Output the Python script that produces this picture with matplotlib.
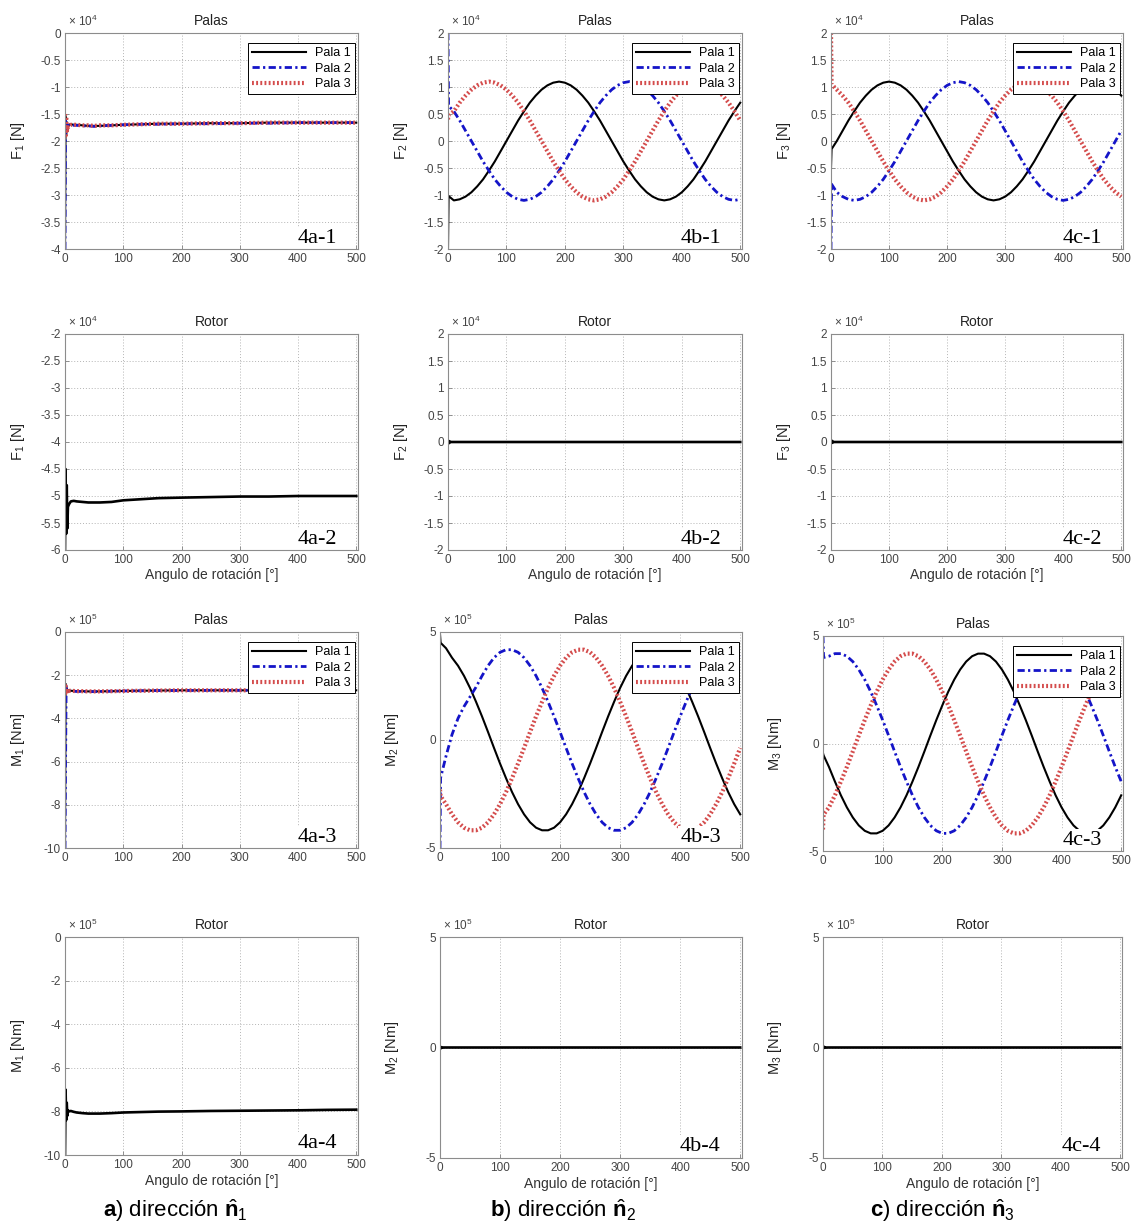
import matplotlib
matplotlib.use("Agg")
import matplotlib.pyplot as plt
from matplotlib.ticker import FuncFormatter

plt.rcParams['font.family'] = ['Liberation Sans', 'DejaVu Sans']
plt.rcParams['mathtext.fontset'] = 'custom'
plt.rcParams['mathtext.rm'] = 'Liberation Sans'
plt.rcParams['mathtext.bf'] = 'Liberation Sans:bold'
plt.rcParams['mathtext.it'] = 'Liberation Sans:italic'

# ---------------- data ----------------
theta = [0, 1] + list(range(10, 510, 10))          # rotation angle [deg]
theta_flat = [0, 1, 2, 3, 4, 5, 7, 10, 15, 20, 30, 40, 50, 60, 80, 100,
              130, 160, 200, 250, 300, 350, 400, 450, 500]
x_ticks = [0, 100, 200, 300, 400, 500]
legend_labels = ['Pala 1', 'Pala 2', 'Pala 3']

# F1 Palas (x1e4)
F1_p1 = [-4.0, -1.55, -1.9, -1.65, -1.8, -1.72, -1.7, -1.69, -1.7, -1.7, -1.71, -1.72, -1.72,
         -1.72, -1.71, -1.7, -1.69, -1.68, -1.68, -1.67, -1.67, -1.66, -1.66, -1.66, -1.66]
F1_p2 = [-4.0, -1.6, -1.85, -1.7, -1.75, -1.72, -1.7, -1.7, -1.71, -1.71, -1.72, -1.72, -1.73,
         -1.72, -1.71, -1.7, -1.69, -1.69, -1.68, -1.68, -1.67, -1.67, -1.66, -1.66, -1.66]
F1_p3 = [-1.5, -1.9, -1.55, -1.85, -1.7, -1.75, -1.72, -1.7, -1.7, -1.7, -1.71, -1.71, -1.72,
         -1.71, -1.71, -1.7, -1.69, -1.68, -1.68, -1.67, -1.67, -1.66, -1.66, -1.66, -1.66]
# F1 Rotor (x1e4)
F1_rotor = [-6.0, -4.5, -5.7, -4.8, -5.6, -5.2, -5.15, -5.1, -5.09, -5.1, -5.11, -5.12, -5.12,
            -5.12, -5.11, -5.08, -5.06, -5.04, -5.03, -5.02, -5.01, -5.01, -5.0, -5.0, -5.0]

# F2 Palas (x1e4)
F2_p1 = [-2.0, -1.02, -1.10, -1.08, -1.03, -0.95, -0.84, -0.71, -0.55, -0.38, -0.19, 0.00,
         0.19, 0.38, 0.55, 0.71, 0.84, 0.95, 1.03, 1.08, 1.10, 1.08, 1.03, 0.95, 0.84, 0.71,
         0.55, 0.38, 0.19, 0.00, -0.19, -0.38, -0.55, -0.71, -0.84, -0.95, -1.03, -1.08,
         -1.10, -1.08, -1.03, -0.95, -0.84, -0.71, -0.55, -0.38, -0.19, 0.00, 0.19, 0.38,
         0.55, 0.71]
F2_p2 = [2.0, 0.65, 0.55, 0.38, 0.19, 0.00, -0.19, -0.38, -0.55, -0.71, -0.84, -0.95, -1.03,
         -1.08, -1.10, -1.08, -1.03, -0.95, -0.84, -0.71, -0.55, -0.38, -0.19, 0.00, 0.19,
         0.38, 0.55, 0.71, 0.84, 0.95, 1.03, 1.08, 1.10, 1.08, 1.03, 0.95, 0.84, 0.71, 0.55,
         0.38, 0.19, 0.00, -0.19, -0.38, -0.55, -0.71, -0.84, -0.95, -1.03, -1.08, -1.10,
         -1.08]
F2_p3 = [0.40, 0.48, 0.55, 0.71, 0.84, 0.95, 1.03, 1.08, 1.10, 1.08, 1.03, 0.95, 0.84, 0.71,
         0.55, 0.38, 0.19, 0.00, -0.19, -0.38, -0.55, -0.71, -0.84, -0.95, -1.03, -1.08,
         -1.10, -1.08, -1.03, -0.95, -0.84, -0.71, -0.55, -0.38, -0.19, 0.00, 0.19, 0.38,
         0.55, 0.71, 0.84, 0.95, 1.03, 1.08, 1.10, 1.08, 1.03, 0.95, 0.84, 0.71, 0.55, 0.38]
F2_rotor = [0.0, 0.02, -0.02, 0.01, 0.0, 0.0, 0.0, 0.0, 0.0, 0.0, 0.0, 0.0, 0.0,
            0.0, 0.0, 0.0, 0.0, 0.0, 0.0, 0.0, 0.0, 0.0, 0.0, 0.0, 0.0]

# F3 Palas (x1e4)
F3_p1 = [-0.50, -0.15, 0.00, 0.19, 0.38, 0.55, 0.71, 0.84, 0.95, 1.03, 1.08, 1.10, 1.08, 1.03,
         0.95, 0.84, 0.71, 0.55, 0.38, 0.19, 0.00, -0.19, -0.38, -0.55, -0.71, -0.84, -0.95,
         -1.03, -1.08, -1.10, -1.08, -1.03, -0.95, -0.84, -0.71, -0.55, -0.38, -0.19, 0.00,
         0.19, 0.38, 0.55, 0.71, 0.84, 0.95, 1.03, 1.08, 1.10, 1.08, 1.03, 0.95, 0.84]
F3_p2 = [-2.0, -0.80, -0.95, -1.03, -1.08, -1.10, -1.08, -1.03, -0.95, -0.84, -0.71, -0.55,
         -0.38, -0.19, 0.00, 0.19, 0.38, 0.55, 0.71, 0.84, 0.95, 1.03, 1.08, 1.10, 1.08, 1.03,
         0.95, 0.84, 0.71, 0.55, 0.38, 0.19, 0.00, -0.19, -0.38, -0.55, -0.71, -0.84, -0.95,
         -1.03, -1.08, -1.10, -1.08, -1.03, -0.95, -0.84, -0.71, -0.55, -0.38, -0.19, 0.00,
         0.19]
F3_p3 = [2.0, 1.05, 0.95, 0.84, 0.71, 0.55, 0.38, 0.19, 0.00, -0.19, -0.38, -0.55, -0.71,
         -0.84, -0.95, -1.03, -1.08, -1.10, -1.08, -1.03, -0.95, -0.84, -0.71, -0.55, -0.38,
         -0.19, 0.00, 0.19, 0.38, 0.55, 0.71, 0.84, 0.95, 1.03, 1.08, 1.10, 1.08, 1.03, 0.95,
         0.84, 0.71, 0.55, 0.38, 0.19, 0.00, -0.19, -0.38, -0.55, -0.71, -0.84, -0.95, -1.03]
F3_rotor = [0.0, -0.02, 0.02, -0.01, 0.0, 0.0, 0.0, 0.0, 0.0, 0.0, 0.0, 0.0, 0.0,
            0.0, 0.0, 0.0, 0.0, 0.0, 0.0, 0.0, 0.0, 0.0, 0.0, 0.0, 0.0]

# M1 Palas (x1e5)
M1_p1 = [-10.0, -2.4, -2.8, -2.6, -2.75, -2.7, -2.72, -2.72, -2.73, -2.74, -2.74, -2.75, -2.75,
         -2.75, -2.74, -2.73, -2.72, -2.71, -2.7, -2.7, -2.7, -2.7, -2.7, -2.7, -2.7]
M1_p2 = [-10.0, -6.0, -2.5, -2.8, -2.7, -2.72, -2.72, -2.73, -2.74, -2.75, -2.75, -2.76, -2.76,
         -2.75, -2.74, -2.73, -2.72, -2.71, -2.71, -2.7, -2.7, -2.7, -2.7, -2.7, -2.7]
M1_p3 = [-2.9, -2.5, -2.85, -2.65, -2.75, -2.7, -2.72, -2.72, -2.73, -2.74, -2.74, -2.75, -2.75,
         -2.75, -2.74, -2.73, -2.72, -2.71, -2.7, -2.7, -2.7, -2.7, -2.7, -2.7, -2.7]
M1_rotor = [-10.0, -7.0, -8.4, -7.6, -8.2, -7.95, -8.0, -7.98, -8.02, -8.05, -8.08, -8.1, -8.1,
            -8.1, -8.08, -8.05, -8.03, -8.01, -8.0, -7.98, -7.97, -7.96, -7.95, -7.93, -7.92]

# M2 Palas (x1e5)
M2_p1 = [4.9, 4.5, 4.25, 3.81, 3.44, 2.97, 2.41, 1.77, 1.09, 0.37, -0.37, -1.09, -1.77, -2.41,
         -2.97, -3.44, -3.81, -4.06, -4.18, -4.18, -4.06, -3.81, -3.44, -2.97, -2.41, -1.77,
         -1.09, -0.37, 0.37, 1.09, 1.77, 2.41, 2.97, 3.44, 3.81, 4.06, 4.18, 4.18, 4.06, 3.81,
         3.44, 2.97, 2.41, 1.77, 1.09, 0.37, -0.37, -1.09, -1.77, -2.41, -2.97, -3.44]
M2_p2 = [-5.0, -1.75, -0.75, 0.25, 1.0, 1.55, 2.0, 2.45, 2.97, 3.44, 3.81, 4.06, 4.18, 4.18,
         4.06, 3.81, 3.44, 2.97, 2.41, 1.77, 1.09, 0.37, -0.37, -1.09, -1.77, -2.41, -2.97,
         -3.44, -3.81, -4.06, -4.18, -4.18, -4.06, -3.81, -3.44, -2.97, -2.41, -1.77, -1.09,
         -0.37, 0.37, 1.09, 1.77, 2.41, 2.97, 3.44, 3.81, 4.06, 4.18, 4.18, 4.06, 3.81]
M2_p3 = [-2.3, -2.6, -2.97, -3.44, -3.81, -4.06, -4.18, -4.18, -4.06, -3.81, -3.44, -2.97,
         -2.41, -1.77, -1.09, -0.37, 0.37, 1.09, 1.77, 2.41, 2.97, 3.44, 3.81, 4.06, 4.18,
         4.18, 4.06, 3.81, 3.44, 2.97, 2.41, 1.77, 1.09, 0.37, -0.37, -1.09, -1.77, -2.41,
         -2.97, -3.44, -3.81, -4.06, -4.18, -4.18, -4.06, -3.81, -3.44, -2.97, -2.41, -1.77,
         -1.09, -0.37]
M2_rotor = [0.0, 0.03, -0.03, 0.01, 0.0, 0.0, 0.0, 0.0, 0.0, 0.0, 0.0, 0.0, 0.0,
            0.0, 0.0, 0.0, 0.0, 0.0, 0.0, 0.0, 0.0, 0.0, 0.0, 0.0, 0.0]

# M3 Palas (x1e5)
M3_p1 = [-0.45, -0.55, -1.09, -1.77, -2.41, -2.97, -3.44, -3.81, -4.06, -4.18, -4.18, -4.06,
         -3.81, -3.44, -2.97, -2.41, -1.77, -1.09, -0.37, 0.37, 1.09, 1.77, 2.41, 2.97, 3.44,
         3.81, 4.06, 4.18, 4.18, 4.06, 3.81, 3.44, 2.97, 2.41, 1.77, 1.09, 0.37, -0.37, -1.09,
         -1.77, -2.41, -2.97, -3.44, -3.81, -4.06, -4.18, -4.18, -4.06, -3.81, -3.44, -2.97,
         -2.41]
M3_p2 = [5.0, 4.0, 4.06, 4.18, 4.18, 4.06, 3.81, 3.44, 2.97, 2.41, 1.77, 1.09, 0.37, -0.37,
         -1.09, -1.77, -2.41, -2.97, -3.44, -3.81, -4.06, -4.18, -4.18, -4.06, -3.81, -3.44,
         -2.97, -2.41, -1.77, -1.09, -0.37, 0.37, 1.09, 1.77, 2.41, 2.97, 3.44, 3.81, 4.06,
         4.18, 4.18, 4.06, 3.81, 3.44, 2.97, 2.41, 1.77, 1.09, 0.37, -0.37, -1.09, -1.77]
M3_p3 = [-4.0, -3.3, -2.97, -2.41, -1.77, -1.09, -0.37, 0.37, 1.09, 1.77, 2.41, 2.97, 3.44,
         3.81, 4.06, 4.18, 4.18, 4.06, 3.81, 3.44, 2.97, 2.41, 1.77, 1.09, 0.37, -0.37, -1.09,
         -1.77, -2.41, -2.97, -3.44, -3.81, -4.06, -4.18, -4.18, -4.06, -3.81, -3.44, -2.97,
         -2.41, -1.77, -1.09, -0.37, 0.37, 1.09, 1.77, 2.41, 2.97, 3.44, 3.81, 4.06, 4.18]
M3_rotor = [0.0, -0.03, 0.03, -0.01, 0.0, 0.0, 0.0, 0.0, 0.0, 0.0, 0.0, 0.0, 0.0,
            0.0, 0.0, 0.0, 0.0, 0.0, 0.0, 0.0, 0.0, 0.0, 0.0, 0.0, 0.0]

yticks_F1_palas = [-4, -3.5, -3, -2.5, -2, -1.5, -1, -0.5, 0]
yticks_F1_rotor = [-6, -5.5, -5, -4.5, -4, -3.5, -3, -2.5, -2]
yticks_F23 = [-2, -1.5, -1, -0.5, 0, 0.5, 1, 1.5, 2]
yticks_M1 = [-10, -8, -6, -4, -2, 0]
yticks_M23 = [-5, 0, 5]

# ---------------- styles / layout ----------------
S1 = dict(color='black', lw=1.5, ls='-')
S2 = dict(color='#1414c8', lw=2.0, ls=(0, (2.6, 1.2, 0.8, 1.2)))
S3 = dict(color='#d44c4c', lw=3.0, ls=(0, (0.45, 0.55)))
SR = dict(color='black', lw=1.9, ls='-')

W, H = 1132, 1229
fig = plt.figure(figsize=(W / 100, H / 100), dpi=100)

POS = {
    (0, 0): (65, 33, 358, 249), (0, 1): (448, 33, 742, 249), (0, 2): (831, 33, 1123, 249),
    (1, 0): (65, 334, 358, 550), (1, 1): (448, 334, 742, 550), (1, 2): (831, 334, 1123, 550),
    (2, 0): (65, 632, 358, 848), (2, 1): (440, 632, 742, 848), (2, 2): (823, 636, 1123, 851),
    (3, 0): (65, 937, 358, 1155), (3, 1): (440, 937, 742, 1158), (3, 2): (823, 937, 1122, 1158),
}


def panel(key, title, ylabel, exp, ylim, yticks, lines, tag, xlabel=False, legend=False):
    l, t, r, b = POS[key]
    ax = fig.add_axes([l / W, 1 - b / H, (r - l) / W, (b - t) / H])
    for x, y, st, lab in lines:
        ax.plot(x, y, label=lab, **st)
    ax.set_xlim(0, 503)
    ax.set_ylim(*ylim)
    ax.set_xticks(x_ticks)
    ax.set_yticks(yticks)
    ax.yaxis.set_major_formatter(FuncFormatter(lambda v, p: f"{v:g}"))
    ax.grid(True, color='#b4b4b4', ls=(0, (1, 2)), lw=0.7)
    ax.tick_params(direction='in', length=3, width=0.6, color='#808080',
                   labelsize=8.5, labelcolor='#444444', pad=3)
    for s in ax.spines.values():
        s.set_color('#8c8c8c')
        s.set_linewidth(0.8)
        s.set_zorder(8)
    ax.set_title(title, fontsize=10, pad=6, color='#222222')
    ax.text(0.01, 1.02, r"$\times\ 10^{%d}$" % exp, transform=ax.transAxes,
            fontsize=8.5, color='#444444', va='bottom', ha='left')
    ax.set_ylabel(ylabel, fontsize=10.5, color='#222222')
    ax.yaxis.set_label_coords(-0.13, 0.5)
    if xlabel:
        ax.set_xlabel('Angulo de rotación [°]', fontsize=10, color='#333333')
        ax.xaxis.set_label_coords(0.5, -0.085)
    if legend:
        lg = ax.legend(loc='upper right', bbox_to_anchor=(0.99, 0.955), borderaxespad=0,
                       fontsize=9, handlelength=4.3, handletextpad=0.7, borderpad=0.35,
                       labelspacing=0.28, fancybox=False, framealpha=1, edgecolor='black')
        lg.get_frame().set_linewidth(0.7)
        lg.set_zorder(5)
    ax.text(0.93, 0.03, tag, transform=ax.transAxes, ha='right', va='baseline',
            fontsize=16, family='Liberation Serif',
            bbox=dict(facecolor='white', edgecolor='none', pad=1.5), zorder=6)
    return ax


def blades(x, a, b, c):
    return [(x, a, S1, legend_labels[0]), (x, b, S2, legend_labels[1]),
            (x, c, S3, legend_labels[2])]


# Row 1: blade forces
panel((0, 0), 'Palas', 'F$_1$ [N]', 4, (-4, 0), yticks_F1_palas,
      blades(theta_flat, F1_p1, F1_p2, F1_p3), '4a-1', legend=True)
panel((0, 1), 'Palas', 'F$_2$ [N]', 4, (-2, 2), yticks_F23,
      blades(theta, F2_p1, F2_p2, F2_p3), '4b-1', legend=True)
panel((0, 2), 'Palas', 'F$_3$ [N]', 4, (-2, 2), yticks_F23,
      blades(theta, F3_p1, F3_p2, F3_p3), '4c-1', legend=True)
# Row 2: rotor forces
panel((1, 0), 'Rotor', 'F$_1$ [N]', 4, (-6, -2), yticks_F1_rotor,
      [(theta_flat, F1_rotor, SR, None)], '4a-2', xlabel=True)
panel((1, 1), 'Rotor', 'F$_2$ [N]', 4, (-2, 2), yticks_F23,
      [(theta_flat, F2_rotor, SR, None)], '4b-2', xlabel=True)
panel((1, 2), 'Rotor', 'F$_3$ [N]', 4, (-2, 2), yticks_F23,
      [(theta_flat, F3_rotor, SR, None)], '4c-2', xlabel=True)
# Row 3: blade moments
panel((2, 0), 'Palas', 'M$_1$ [Nm]', 5, (-10, 0), yticks_M1,
      blades(theta_flat, M1_p1, M1_p2, M1_p3), '4a-3', legend=True)
panel((2, 1), 'Palas', 'M$_2$ [Nm]', 5, (-5, 5), yticks_M23,
      blades(theta, M2_p1, M2_p2, M2_p3), '4b-3', legend=True)
panel((2, 2), 'Palas', 'M$_3$ [Nm]', 5, (-5, 5), yticks_M23,
      blades(theta, M3_p1, M3_p2, M3_p3), '4c-3', legend=True)
# Row 4: rotor moments
panel((3, 0), 'Rotor', 'M$_1$ [Nm]', 5, (-10, 0), yticks_M1,
      [(theta_flat, M1_rotor, SR, None)], '4a-4', xlabel=True)
panel((3, 1), 'Rotor', 'M$_2$ [Nm]', 5, (-5, 5), yticks_M23,
      [(theta_flat, M2_rotor, SR, None)], '4b-4', xlabel=True)
panel((3, 2), 'Rotor', 'M$_3$ [Nm]', 5, (-5, 5), yticks_M23,
      [(theta_flat, M3_rotor, SR, None)], '4c-4', xlabel=True)

captions = [r"$\mathbf{a}$) dirección $\hat{\mathbf{n}}_{1}$",
            r"$\mathbf{b}$) dirección $\hat{\mathbf{n}}_{2}$",
            r"$\mathbf{c}$) dirección $\hat{\mathbf{n}}_{3}$"]
caption_x = [175, 563, 942]
for cx, cap in zip(caption_x, captions):
    fig.text(cx / W, 1 - 1211 / H, cap, fontsize=16, ha='center', va='center', color='black')

fig.savefig('out.png', dpi=100)
